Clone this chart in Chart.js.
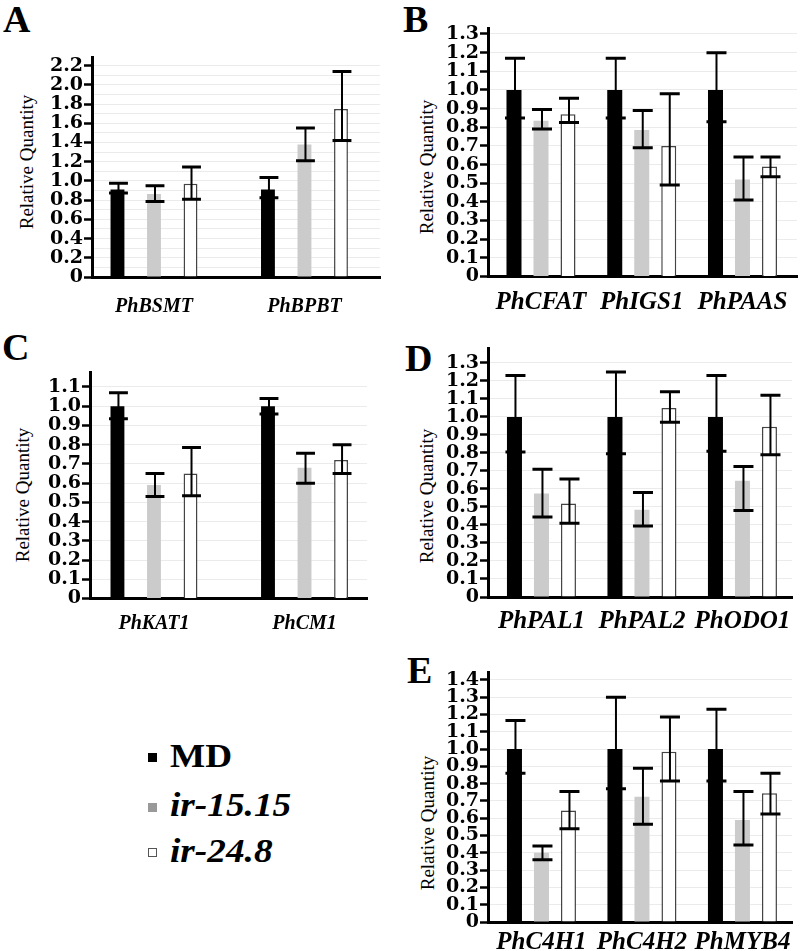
<!DOCTYPE html>
<html>
<head>
<meta charset="utf-8">
<script src="https://cdn.jsdelivr.net/npm/chart.js@4.4.1/dist/chart.umd.min.js"></script>
<style>
  body { margin: 0; background: #fff; }
  #page { position: relative; width: 800px; height: 951px; overflow: hidden; font-family: "Liberation Serif", serif; color: #000; }
  canvas { position: absolute; }
  .letter { position: absolute; font-size: 38px; font-weight: bold; line-height: 38px; }
  .ytitle { position: absolute; width: 200px; height: 22px; line-height: 22px; text-align: center; font-size: 19px; transform: rotate(-90deg); white-space: nowrap; }
  .key { position: absolute; left: 148px; width: 9px; height: 9px; box-sizing: border-box; }
  .keytext { position: absolute; left: 170px; font-size: 33px; font-weight: bold; line-height: 33px; transform-origin: left center; transform: scaleX(1.13); white-space: nowrap; }
</style>
</head>
<body>
<div id="page">
  <div class="letter" style="left:3px;top:0px">A</div>
  <div class="letter" style="left:403px;top:0px">B</div>
  <div class="letter" style="left:2px;top:328px">C</div>
  <div class="letter" style="left:405px;top:339px">D</div>
  <div class="letter" style="left:407px;top:651px">E</div>

  <div class="ytitle" style="left:-73px;top:151px">Relative Quantity</div>
  <div class="ytitle" style="left:327px;top:156px">Relative Quantity</div>
  <div class="ytitle" style="left:-77px;top:484px">Relative Quantity</div>
  <div class="ytitle" style="left:327px;top:485px">Relative Quantity</div>
  <div class="ytitle" style="left:328px;top:812px">Relative Quantity</div>

  <canvas id="chartA" width="400" height="300" style="left:0px;top:40px"></canvas>
  <canvas id="chartB" width="400" height="320" style="left:400px;top:10px"></canvas>
  <canvas id="chartC" width="400" height="300" style="left:0px;top:350px"></canvas>
  <canvas id="chartD" width="400" height="320" style="left:400px;top:330px"></canvas>
  <canvas id="chartE" width="400" height="301" style="left:400px;top:650px"></canvas>

  <div class="key" style="top:753px;background:#000"></div>
  <div class="keytext" style="top:740px">MD</div>
  <div class="key" style="top:803px;background:#999"></div>
  <div class="keytext" style="top:789px;font-style:italic">ir-15.15</div>
  <div class="key" style="top:848px;background:#fff;border:1px solid #555"></div>
  <div class="keytext" style="top:835px;font-style:italic">ir-24.8</div>
</div>

<script>
// series: MD, ir-15.15, ir-24.8  (value, upper and lower error limits)
const seriesNames = ['MD', 'ir-15.15', 'ir-24.8'];

// A
const genesA = ['PhBSMT', 'PhBPBT'];
const A_md = [0.91, 0.91];     const A_mdHi = [0.975, 1.035]; const A_mdLo = [0.875, 0.825];
const A_r15 = [0.865, 1.38];   const A_r15Hi = [0.95, 1.55];  const A_r15Lo = [0.785, 1.21];
const A_r24 = [0.97, 1.75];    const A_r24Hi = [1.145, 2.14]; const A_r24Lo = [0.81, 1.42];

// B
const genesB = ['PhCFAT', 'PhIGS1', 'PhPAAS'];
const B_md = [1.0, 1.0, 1.0];        const B_mdHi = [1.17, 1.17, 1.20];   const B_mdLo = [0.85, 0.85, 0.83];
const B_r15 = [0.835, 0.785, 0.52];  const B_r15Hi = [0.895, 0.89, 0.64]; const B_r15Lo = [0.79, 0.69, 0.41];
const B_r24 = [0.87, 0.70, 0.59];    const B_r24Hi = [0.955, 0.98, 0.64]; const B_r24Lo = [0.825, 0.49, 0.535];

// C
const genesC = ['PhKAT1', 'PhCM1'];
const C_md = [1.0, 1.0];      const C_mdHi = [1.07, 1.04];   const C_mdLo = [0.935, 0.96];
const C_r15 = [0.59, 0.68];   const C_r15Hi = [0.65, 0.755]; const C_r15Lo = [0.53, 0.60];
const C_r24 = [0.65, 0.72];   const C_r24Hi = [0.785, 0.80]; const C_r24Lo = [0.535, 0.65];

// D
const genesD = ['PhPAL1', 'PhPAL2', 'PhODO1'];
const D_md = [1.0, 1.0, 1.0];          const D_mdHi = [1.23, 1.25, 1.23];   const D_mdLo = [0.805, 0.795, 0.81];
const D_r15 = [0.575, 0.485, 0.645];   const D_r15Hi = [0.71, 0.58, 0.725]; const D_r15Lo = [0.445, 0.395, 0.48];
const D_r24 = [0.52, 1.05, 0.945];     const D_r24Hi = [0.655, 1.14, 1.12]; const D_r24Lo = [0.41, 0.97, 0.79];

// E
const genesE = ['PhC4H1', 'PhC4H2', 'PhMYB4'];
const E_md = [1.0, 1.0, 1.0];          const E_mdHi = [1.165, 1.30, 1.23];   const E_mdLo = [0.86, 0.77, 0.815];
const E_r15 = [0.40, 0.725, 0.59];     const E_r15Hi = [0.44, 0.89, 0.755];  const E_r15Lo = [0.36, 0.565, 0.445];
const E_r24 = [0.645, 0.985, 0.745];   const E_r24Hi = [0.755, 1.185, 0.86]; const E_r24Lo = [0.54, 0.815, 0.625];

const fills = ['#000000', '#cbcbcb', '#ffffff'];

// error bars drawn on top of the bars
const errorBars = {
  id: 'errorBars',
  afterDatasetsDraw(chart) {
    const ctx = chart.ctx;
    const y = chart.scales.y;
    ctx.save();
    ctx.strokeStyle = '#000';
    chart.data.datasets.forEach((ds, i) => {
      chart.getDatasetMeta(i).data.forEach((bar, j) => {
        const top = y.getPixelForValue(ds.errHi[j]);
        const bot = y.getPixelForValue(ds.errLo[j]);
        const x = bar.x + 1;
        const half = bar.width / 2 + 2.5;
        ctx.lineWidth = 2;
        ctx.beginPath();
        ctx.moveTo(x, top);
        ctx.lineTo(x, bot);
        ctx.stroke();
        ctx.lineWidth = 3;
        ctx.beginPath();
        ctx.moveTo(x - half, top); ctx.lineTo(x + half, top);
        ctx.moveTo(x - half, bot); ctx.lineTo(x + half, bot);
        ctx.stroke();
      });
    });
    ctx.restore();
  }
};

function fmt(v) {
  return Math.abs(v) < 1e-9 ? '0' : v.toFixed(1);
}

function panel(id, genes, vals, his, los, o) {
  const every = o.labelEvery || 1;
  const shown = v => Math.round(v / o.step) % every === 0;
  new Chart(document.getElementById(id), {
    type: 'bar',
    data: {
      labels: genes,
      datasets: seriesNames.map((name, k) => ({
        label: name,
        data: vals[k],
        errHi: his[k],
        errLo: los[k],
        backgroundColor: fills[k],
        borderColor: k === 2 ? '#444' : fills[k],
        borderWidth: k === 2 ? 1.5 : 0,
        categoryPercentage: o.catPct,
        barPercentage: o.barPct
      }))
    },
    options: {
      responsive: false,
      animation: false,
      layout: { padding: { top: o.axisTop - o.top, right: o.left + o.width - o.right, left: 0, bottom: 0 } },
      plugins: { legend: { display: false }, tooltip: { enabled: false } },
      scales: {
        x: {
          grid: { display: false },
          border: { color: '#000', width: 3 },
          ticks: {
            color: '#000', padding: o.xPad, autoSkip: false, maxRotation: 0,
            font: { family: 'Liberation Serif', size: o.geneSize, weight: 'bold', style: 'italic' }
          },
          // the groups in the original sit a little off-centre on the axis
          afterBuildTicks: s => { s._startValue = o.xStart; s._valueRange = o.xRange; },
          afterFit: s => { s.height = o.top + o.height - o.zeroY; }
        },
        y: {
          min: 0,
          max: o.yMax,
          border: { color: '#000', width: 3 },
          grid: {
            color: '#ebebeb', lineWidth: 1, tickLength: 8, tickWidth: 2.5,
            tickColor: c => (c.tick && shown(c.tick.value)) ? '#000' : 'rgba(0,0,0,0)'
          },
          ticks: {
            stepSize: o.step, includeBounds: false, autoSkip: false, padding: 1, color: '#000',
            font: { family: 'DejaVu Serif', size: 19, weight: 'bold' },
            callback: v => shown(v) ? fmt(v) : ''
          },
          afterFit: s => { s.width = o.axisX - o.left; }
        }
      }
    },
    plugins: [errorBars]
  });
}

panel('chartA', genesA, [A_md, A_r15, A_r24], [A_mdHi, A_r15Hi, A_r24Hi], [A_mdLo, A_r15Lo, A_r24Lo],
  { left: 0, top: 40, width: 400, height: 300, axisX: 92, axisTop: 57, zeroY: 277, right: 380,
    yMax: 2.29, step: 0.1, labelEvery: 2, xPad: 10, geneSize: 20,
    xStart: -0.412, xRange: 1.914, catPct: 0.728, barPct: 0.38 });

panel('chartB', genesB, [B_md, B_r15, B_r24], [B_mdHi, B_r15Hi, B_r24Hi], [B_mdLo, B_r15Lo, B_r24Lo],
  { left: 400, top: 10, width: 400, height: 320, axisX: 488, axisTop: 28, zeroY: 276.5, right: 797,
    yMax: 1.332, step: 0.1, xPad: 3.5, geneSize: 25,
    xStart: -0.526, xRange: 3.067, catPct: 0.804, barPct: 0.556 });

panel('chartC', genesC, [C_md, C_r15, C_r24], [C_mdHi, C_r15Hi, C_r24Hi], [C_mdLo, C_r15Lo, C_r24Lo],
  { left: 0, top: 350, width: 400, height: 300, axisX: 90, axisTop: 372, zeroY: 598.5, right: 367,
    yMax: 1.178, step: 0.1, xPad: 5.5, geneSize: 20,
    xStart: -0.425, xRange: 1.840, catPct: 0.728, barPct: 0.38 });

panel('chartD', genesD, [D_md, D_r15, D_r24], [D_mdHi, D_r15Hi, D_r24Hi], [D_mdLo, D_r15Lo, D_r24Lo],
  { left: 400, top: 330, width: 400, height: 320, axisX: 488, axisTop: 348, zeroY: 597, right: 792,
    yMax: 1.383, step: 0.1, xPad: 2, geneSize: 25,
    xStart: -0.532, xRange: 3.025, catPct: 0.806, barPct: 0.556 });

panel('chartE', genesE, [E_md, E_r15, E_r24], [E_mdHi, E_r15Hi, E_r24Hi], [E_mdLo, E_r15Lo, E_r24Lo],
  { left: 400, top: 650, width: 400, height: 301, axisX: 488, axisTop: 672, zeroY: 922, right: 792,
    yMax: 1.446, step: 0.1, xPad: -2.5, geneSize: 25,
    xStart: -0.532, xRange: 3.025, catPct: 0.806, barPct: 0.556 });
</script>
</body>
</html>
